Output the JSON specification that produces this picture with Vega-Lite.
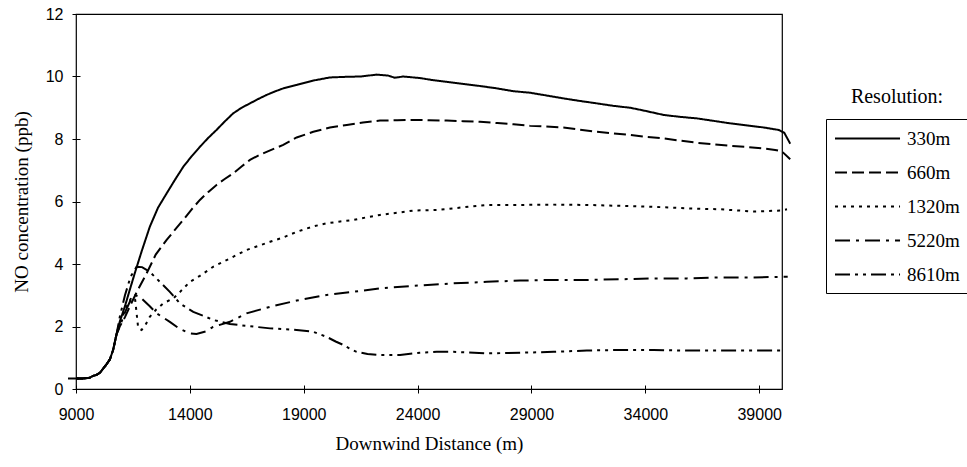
{
  "$schema": "https://vega.github.io/schema/vega-lite/v6.json",
  "autosize": {"type": "none"},
  "padding": {"left": 76, "top": 14, "right": 185, "bottom": 78},
  "width": 706,
  "height": 375,
  "background": "white",
  "config": {
    "view": {"stroke": "black", "strokeWidth": 1.2},
    "axis": {
      "domain": false,
      "grid": false,
      "offset": -4,
      "tickSize": 8,
      "tickColor": "black",
      "tickWidth": 1,
      "labelFlush": false,
      "labelFont": "Liberation Sans",
      "labelFontSize": 16,
      "labelColor": "black",
      "titleFont": "Liberation Serif",
      "titleFontSize": 19,
      "titleFontWeight": "normal",
      "titleColor": "black"
    }
  },
  "data": {
    "values": [
      {"res": "330m", "d": 9000, "no": 0.34}, {"res": "330m", "d": 9300, "no": 0.34}, {"res": "330m", "d": 9600, "no": 0.36}, {"res": "330m", "d": 9750, "no": 0.42}, {"res": "330m", "d": 9900, "no": 0.45}, {"res": "330m", "d": 10050, "no": 0.52}, {"res": "330m", "d": 10200, "no": 0.66}, {"res": "330m", "d": 10350, "no": 0.8}, {"res": "330m", "d": 10490, "no": 0.95}, {"res": "330m", "d": 10630, "no": 1.25}, {"res": "330m", "d": 10780, "no": 1.75},
      {"res": "330m", "d": 10920, "no": 2.15}, {"res": "330m", "d": 11150, "no": 2.65}, {"res": "330m", "d": 11360, "no": 3.17}, {"res": "330m", "d": 11600, "no": 3.75}, {"res": "330m", "d": 11880, "no": 4.4}, {"res": "330m", "d": 12240, "no": 5.19}, {"res": "330m", "d": 12600, "no": 5.8}, {"res": "330m", "d": 12980, "no": 6.26}, {"res": "330m", "d": 13350, "no": 6.7}, {"res": "330m", "d": 13710, "no": 7.11}, {"res": "330m", "d": 14080, "no": 7.45}, {"res": "330m", "d": 14440, "no": 7.75}, {"res": "330m", "d": 14800, "no": 8.03}, {"res": "330m", "d": 15170, "no": 8.29}, {"res": "330m", "d": 15530, "no": 8.56}, {"res": "330m", "d": 15900, "no": 8.82}, {"res": "330m", "d": 16270, "no": 9.0}, {"res": "330m", "d": 16640, "no": 9.14}, {"res": "330m", "d": 17000, "no": 9.28}, {"res": "330m", "d": 17370, "no": 9.41}, {"res": "330m", "d": 17730, "no": 9.52}, {"res": "330m", "d": 18100, "no": 9.62}, {"res": "330m", "d": 18690, "no": 9.73}, {"res": "330m", "d": 19420, "no": 9.87}, {"res": "330m", "d": 20150, "no": 9.97}, {"res": "330m", "d": 20890, "no": 9.99}, {"res": "330m", "d": 21500, "no": 10.0}, {"res": "330m", "d": 22200, "no": 10.06}, {"res": "330m", "d": 22700, "no": 10.03}, {"res": "330m", "d": 23000, "no": 9.96}, {"res": "330m", "d": 23370, "no": 10.0}, {"res": "330m", "d": 24110, "no": 9.95}, {"res": "330m", "d": 24700, "no": 9.88}, {"res": "330m", "d": 25280, "no": 9.83}, {"res": "330m", "d": 26010, "no": 9.76}, {"res": "330m", "d": 26700, "no": 9.7}, {"res": "330m", "d": 27480, "no": 9.62}, {"res": "330m", "d": 28200, "no": 9.53}, {"res": "330m", "d": 28940, "no": 9.48}, {"res": "330m", "d": 29600, "no": 9.4}, {"res": "330m", "d": 30400, "no": 9.3}, {"res": "330m", "d": 31100, "no": 9.22}, {"res": "330m", "d": 31870, "no": 9.14}, {"res": "330m", "d": 32600, "no": 9.06}, {"res": "330m", "d": 33330, "no": 9.0}, {"res": "330m", "d": 34000, "no": 8.9}, {"res": "330m", "d": 34800, "no": 8.77}, {"res": "330m", "d": 35500, "no": 8.71}, {"res": "330m", "d": 36260, "no": 8.66}, {"res": "330m", "d": 37000, "no": 8.58}, {"res": "330m", "d": 37730, "no": 8.5}, {"res": "330m", "d": 38500, "no": 8.43}, {"res": "330m", "d": 39190, "no": 8.37}, {"res": "330m", "d": 39850, "no": 8.29}, {"res": "330m", "d": 40100, "no": 8.2}, {"res": "330m", "d": 40360, "no": 7.85},

      {"res": "660m", "d": 9000, "no": 0.34}, {"res": "660m", "d": 9300, "no": 0.34}, {"res": "660m", "d": 9600, "no": 0.36}, {"res": "660m", "d": 9750, "no": 0.42}, {"res": "660m", "d": 9900, "no": 0.45}, {"res": "660m", "d": 10050, "no": 0.52}, {"res": "660m", "d": 10200, "no": 0.66}, {"res": "660m", "d": 10350, "no": 0.8}, {"res": "660m", "d": 10490, "no": 0.95}, {"res": "660m", "d": 10630, "no": 1.25}, {"res": "660m", "d": 10780, "no": 1.75},
      {"res": "660m", "d": 10920, "no": 2.0}, {"res": "660m", "d": 11150, "no": 2.3}, {"res": "660m", "d": 11400, "no": 2.7}, {"res": "660m", "d": 11700, "no": 3.15}, {"res": "660m", "d": 12100, "no": 3.7}, {"res": "660m", "d": 12500, "no": 4.3}, {"res": "660m", "d": 12980, "no": 4.77}, {"res": "660m", "d": 13350, "no": 5.1}, {"res": "660m", "d": 13710, "no": 5.41}, {"res": "660m", "d": 14080, "no": 5.75}, {"res": "660m", "d": 14440, "no": 6.05}, {"res": "660m", "d": 14800, "no": 6.3}, {"res": "660m", "d": 15170, "no": 6.53}, {"res": "660m", "d": 15530, "no": 6.72}, {"res": "660m", "d": 15900, "no": 6.9}, {"res": "660m", "d": 16270, "no": 7.12}, {"res": "660m", "d": 16640, "no": 7.33}, {"res": "660m", "d": 17000, "no": 7.47}, {"res": "660m", "d": 17370, "no": 7.59}, {"res": "660m", "d": 17730, "no": 7.7}, {"res": "660m", "d": 18100, "no": 7.81}, {"res": "660m", "d": 18690, "no": 8.05}, {"res": "660m", "d": 19420, "no": 8.23}, {"res": "660m", "d": 20150, "no": 8.37}, {"res": "660m", "d": 20890, "no": 8.45}, {"res": "660m", "d": 21600, "no": 8.53}, {"res": "660m", "d": 22350, "no": 8.59}, {"res": "660m", "d": 23100, "no": 8.6}, {"res": "660m", "d": 23810, "no": 8.61}, {"res": "660m", "d": 24500, "no": 8.6}, {"res": "660m", "d": 25280, "no": 8.59}, {"res": "660m", "d": 26000, "no": 8.57}, {"res": "660m", "d": 26740, "no": 8.55}, {"res": "660m", "d": 27500, "no": 8.51}, {"res": "660m", "d": 28210, "no": 8.47}, {"res": "660m", "d": 28940, "no": 8.42}, {"res": "660m", "d": 29600, "no": 8.4}, {"res": "660m", "d": 30400, "no": 8.37}, {"res": "660m", "d": 31100, "no": 8.3}, {"res": "660m", "d": 31870, "no": 8.23}, {"res": "660m", "d": 32600, "no": 8.18}, {"res": "660m", "d": 33330, "no": 8.13}, {"res": "660m", "d": 34000, "no": 8.07}, {"res": "660m", "d": 34800, "no": 8.02}, {"res": "660m", "d": 35500, "no": 7.95}, {"res": "660m", "d": 36260, "no": 7.88}, {"res": "660m", "d": 37000, "no": 7.83}, {"res": "660m", "d": 37730, "no": 7.78}, {"res": "660m", "d": 38500, "no": 7.74}, {"res": "660m", "d": 39190, "no": 7.7}, {"res": "660m", "d": 39700, "no": 7.65}, {"res": "660m", "d": 40000, "no": 7.6}, {"res": "660m", "d": 40360, "no": 7.35},

      {"res": "1320m", "d": 9000, "no": 0.34}, {"res": "1320m", "d": 9300, "no": 0.34}, {"res": "1320m", "d": 9600, "no": 0.36}, {"res": "1320m", "d": 9750, "no": 0.42}, {"res": "1320m", "d": 9900, "no": 0.45}, {"res": "1320m", "d": 10050, "no": 0.52}, {"res": "1320m", "d": 10200, "no": 0.66}, {"res": "1320m", "d": 10350, "no": 0.8}, {"res": "1320m", "d": 10490, "no": 0.95}, {"res": "1320m", "d": 10630, "no": 1.25}, {"res": "1320m", "d": 10780, "no": 1.75},
      {"res": "1320m", "d": 10920, "no": 2.1}, {"res": "1320m", "d": 11200, "no": 2.6}, {"res": "1320m", "d": 11450, "no": 2.95}, {"res": "1320m", "d": 11600, "no": 2.85}, {"res": "1320m", "d": 11730, "no": 1.95}, {"res": "1320m", "d": 11880, "no": 1.89}, {"res": "1320m", "d": 12050, "no": 2.05}, {"res": "1320m", "d": 12240, "no": 2.31}, {"res": "1320m", "d": 12530, "no": 2.55}, {"res": "1320m", "d": 12830, "no": 2.74}, {"res": "1320m", "d": 13270, "no": 2.9}, {"res": "1320m", "d": 13560, "no": 3.1}, {"res": "1320m", "d": 14000, "no": 3.43}, {"res": "1320m", "d": 14440, "no": 3.62}, {"res": "1320m", "d": 15020, "no": 3.91}, {"res": "1320m", "d": 15760, "no": 4.18}, {"res": "1320m", "d": 16490, "no": 4.45}, {"res": "1320m", "d": 17520, "no": 4.71}, {"res": "1320m", "d": 18100, "no": 4.85}, {"res": "1320m", "d": 18690, "no": 5.03}, {"res": "1320m", "d": 19400, "no": 5.2}, {"res": "1320m", "d": 20000, "no": 5.3}, {"res": "1320m", "d": 20600, "no": 5.36}, {"res": "1320m", "d": 21180, "no": 5.41}, {"res": "1320m", "d": 21800, "no": 5.5}, {"res": "1320m", "d": 22350, "no": 5.57}, {"res": "1320m", "d": 23100, "no": 5.64}, {"res": "1320m", "d": 23810, "no": 5.71}, {"res": "1320m", "d": 24840, "no": 5.73}, {"res": "1320m", "d": 25570, "no": 5.78}, {"res": "1320m", "d": 26300, "no": 5.84}, {"res": "1320m", "d": 27040, "no": 5.89}, {"res": "1320m", "d": 28500, "no": 5.89}, {"res": "1320m", "d": 29970, "no": 5.9}, {"res": "1320m", "d": 31430, "no": 5.89}, {"res": "1320m", "d": 32900, "no": 5.86}, {"res": "1320m", "d": 34360, "no": 5.83}, {"res": "1320m", "d": 35830, "no": 5.78}, {"res": "1320m", "d": 37290, "no": 5.75}, {"res": "1320m", "d": 38750, "no": 5.68}, {"res": "1320m", "d": 39920, "no": 5.71}, {"res": "1320m", "d": 40220, "no": 5.75},

      {"res": "5220m", "d": 9000, "no": 0.34}, {"res": "5220m", "d": 9300, "no": 0.34}, {"res": "5220m", "d": 9600, "no": 0.36}, {"res": "5220m", "d": 9750, "no": 0.42}, {"res": "5220m", "d": 9900, "no": 0.45}, {"res": "5220m", "d": 10050, "no": 0.52}, {"res": "5220m", "d": 10200, "no": 0.66}, {"res": "5220m", "d": 10350, "no": 0.8}, {"res": "5220m", "d": 10490, "no": 0.95}, {"res": "5220m", "d": 10630, "no": 1.25}, {"res": "5220m", "d": 10780, "no": 1.75},
      {"res": "5220m", "d": 10920, "no": 2.0}, {"res": "5220m", "d": 11150, "no": 2.45}, {"res": "5220m", "d": 11400, "no": 2.85}, {"res": "5220m", "d": 11600, "no": 3.0}, {"res": "5220m", "d": 11800, "no": 2.95}, {"res": "5220m", "d": 12240, "no": 2.65}, {"res": "5220m", "d": 12540, "no": 2.42}, {"res": "5220m", "d": 13120, "no": 2.15}, {"res": "5220m", "d": 13560, "no": 1.92}, {"res": "5220m", "d": 14000, "no": 1.78}, {"res": "5220m", "d": 14290, "no": 1.76}, {"res": "5220m", "d": 14730, "no": 1.85}, {"res": "5220m", "d": 15020, "no": 1.99}, {"res": "5220m", "d": 15760, "no": 2.15}, {"res": "5220m", "d": 16490, "no": 2.42}, {"res": "5220m", "d": 17520, "no": 2.63}, {"res": "5220m", "d": 18690, "no": 2.83}, {"res": "5220m", "d": 20000, "no": 3.01}, {"res": "5220m", "d": 21180, "no": 3.11}, {"res": "5220m", "d": 22350, "no": 3.22}, {"res": "5220m", "d": 23810, "no": 3.3}, {"res": "5220m", "d": 25570, "no": 3.38}, {"res": "5220m", "d": 27040, "no": 3.43}, {"res": "5220m", "d": 28500, "no": 3.47}, {"res": "5220m", "d": 29970, "no": 3.49}, {"res": "5220m", "d": 31430, "no": 3.49}, {"res": "5220m", "d": 32900, "no": 3.51}, {"res": "5220m", "d": 34360, "no": 3.54}, {"res": "5220m", "d": 35830, "no": 3.54}, {"res": "5220m", "d": 37290, "no": 3.57}, {"res": "5220m", "d": 38750, "no": 3.57}, {"res": "5220m", "d": 40000, "no": 3.59}, {"res": "5220m", "d": 40250, "no": 3.59},

      {"res": "8610m", "d": 8650, "no": 0.34}, {"res": "8610m", "d": 9000, "no": 0.34}, {"res": "8610m", "d": 9300, "no": 0.34}, {"res": "8610m", "d": 9600, "no": 0.36}, {"res": "8610m", "d": 9750, "no": 0.42}, {"res": "8610m", "d": 9900, "no": 0.45}, {"res": "8610m", "d": 10050, "no": 0.52}, {"res": "8610m", "d": 10200, "no": 0.66}, {"res": "8610m", "d": 10350, "no": 0.8}, {"res": "8610m", "d": 10490, "no": 0.95}, {"res": "8610m", "d": 10630, "no": 1.25}, {"res": "8610m", "d": 10780, "no": 1.75},
      {"res": "8610m", "d": 10920, "no": 2.3}, {"res": "8610m", "d": 11150, "no": 3.0}, {"res": "8610m", "d": 11400, "no": 3.6}, {"res": "8610m", "d": 11660, "no": 3.91}, {"res": "8610m", "d": 11900, "no": 3.9}, {"res": "8610m", "d": 12240, "no": 3.75}, {"res": "8610m", "d": 12680, "no": 3.43}, {"res": "8610m", "d": 13120, "no": 3.11}, {"res": "8610m", "d": 13560, "no": 2.74}, {"res": "8610m", "d": 14150, "no": 2.47}, {"res": "8610m", "d": 14730, "no": 2.3}, {"res": "8610m", "d": 15020, "no": 2.21}, {"res": "8610m", "d": 15760, "no": 2.08}, {"res": "8610m", "d": 16490, "no": 2.02}, {"res": "8610m", "d": 17520, "no": 1.94}, {"res": "8610m", "d": 18690, "no": 1.89}, {"res": "8610m", "d": 19420, "no": 1.83}, {"res": "8610m", "d": 20000, "no": 1.67}, {"res": "8610m", "d": 20400, "no": 1.52}, {"res": "8610m", "d": 20740, "no": 1.41}, {"res": "8610m", "d": 21000, "no": 1.3}, {"res": "8610m", "d": 21320, "no": 1.19}, {"res": "8610m", "d": 21800, "no": 1.12}, {"res": "8610m", "d": 22350, "no": 1.09}, {"res": "8610m", "d": 23230, "no": 1.09}, {"res": "8610m", "d": 24100, "no": 1.16}, {"res": "8610m", "d": 24840, "no": 1.19}, {"res": "8610m", "d": 25570, "no": 1.19}, {"res": "8610m", "d": 27040, "no": 1.14}, {"res": "8610m", "d": 28500, "no": 1.16}, {"res": "8610m", "d": 29970, "no": 1.19}, {"res": "8610m", "d": 31430, "no": 1.23}, {"res": "8610m", "d": 32900, "no": 1.25}, {"res": "8610m", "d": 34360, "no": 1.25}, {"res": "8610m", "d": 35830, "no": 1.23}, {"res": "8610m", "d": 37290, "no": 1.23}, {"res": "8610m", "d": 38750, "no": 1.23}, {"res": "8610m", "d": 40070, "no": 1.23}
    ]
  },
  "mark": {"type": "line", "color": "black", "strokeWidth": 2, "clip": false},
  "encoding": {
    "x": {
      "field": "d",
      "type": "quantitative",
      "scale": {"domain": [9000, 40000], "nice": false, "zero": false},
      "axis": {
        "title": "Downwind Distance (m)",
        "values": [9000, 14000, 19000, 24000, 29000, 34000, 39000],
        "format": "d",
        "labelPadding": 13,
        "titlePadding": 12
      }
    },
    "y": {
      "field": "no",
      "type": "quantitative",
      "scale": {"domain": [0, 12], "nice": false},
      "axis": {
        "title": "NO concentration (ppb)",
        "values": [0, 2, 4, 6, 8, 10, 12],
        "labelPadding": 9,
        "titlePadding": 14
      }
    },
    "strokeDash": {
      "field": "res",
      "type": "nominal",
      "scale": {
        "domain": ["330m", "660m", "1320m", "5220m", "8610m"],
        "range": [[1, 0], [12, 5], [3, 5], [15, 6, 3, 6], [15, 5, 3, 5, 3, 5]]
      },
      "legend": {
        "title": "Resolution:",
        "orient": "none",
        "legendX": 750,
        "legendY": 105,
        "padding": 8,
        "strokeColor": "black",
        "titleFont": "Liberation Serif",
        "titleFontSize": 20,
        "titleFontWeight": "normal",
        "titleColor": "black",
        "titleAnchor": "middle",
        "titlePadding": -32,
        "labelFont": "Liberation Serif",
        "labelFontSize": 19,
        "labelColor": "black",
        "labelOffset": 26,
        "symbolType": "M-1,0H1.89",
        "symbolSize": 2025,
        "symbolStrokeWidth": 1.8,
        "symbolStrokeColor": "black",
        "symbolFillColor": "transparent",
        "rowPadding": 0,
        "encode": {"title": {"update": {"dy": {"value": -40}}}}
      }
    }
  }
}
